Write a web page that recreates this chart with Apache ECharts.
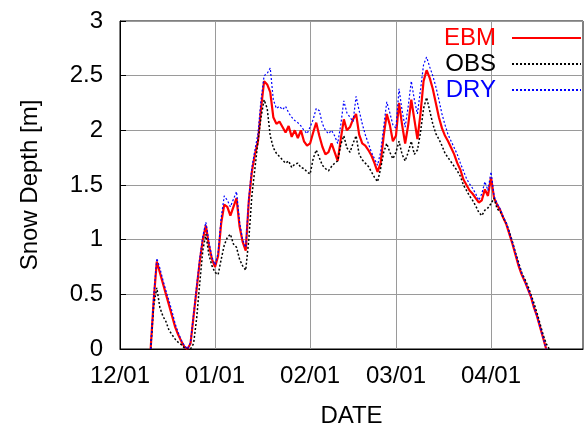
<!DOCTYPE html>
<html>
<head>
<meta charset="utf-8">
<script src="https://cdn.jsdelivr.net/npm/echarts@6/dist/echarts.min.js"></script>
<style>html,body{margin:0;padding:0;background:#fff}#c{width:585px;height:425px}</style>
</head>
<body>
<div id="c"></div>
<script>
// Day offsets from 12/01 (0 = 12/01)
var days = [];
for (var d = 10; d <= 140; d++) days.push(d);
var tickDays = [0, 31, 62, 90, 121];
var tickLabels = ['12/01', '01/01', '02/01', '03/01', '04/01'];
var seriesNames = ['EBM', 'OBS', 'DRY'];

var ebm = [
 0, 0.45, 0.80, 0.70, 0.60, 0.50, 0.40, 0.30, 0.20, 0.13,
 0.07, 0.02, 0, 0.05, 0.30, 0.55, 0.80, 1.00, 1.13, 0.95,
 0.82, 0.75, 0.85, 1.15, 1.32, 1.30, 1.22, 1.30, 1.38, 1.12,
 0.98, 0.90, 1.35, 1.62, 1.78, 1.90, 2.20, 2.45, 2.42, 2.35,
 2.12, 2.06, 2.08, 2.03, 1.98, 2.04, 1.94, 2.00, 1.93, 2.00,
 1.90, 1.86, 1.88, 1.98, 2.07, 1.95, 1.85, 1.78, 1.80, 1.88,
 1.80, 1.72, 1.92, 2.10, 2.00, 2.03, 2.10, 2.15, 1.96, 1.88,
 1.86, 1.82, 1.77, 1.70, 1.62, 1.70, 1.95, 2.15, 2.05, 1.90,
 1.95, 2.25, 2.05, 1.88, 2.05, 2.28, 2.10, 1.92, 2.15, 2.45,
 2.55, 2.48, 2.38, 2.25, 2.12, 2.02, 1.95, 1.90, 1.84, 1.78,
 1.70, 1.64, 1.55, 1.50, 1.45, 1.42, 1.38, 1.34, 1.36, 1.46,
 1.40, 1.57, 1.38, 1.32, 1.27, 1.20, 1.14, 1.05, 0.96, 0.86,
 0.76, 0.68, 0.62, 0.55, 0.48, 0.38, 0.30, 0.20, 0.10, 0,
 null
];
var obs = [
 0, 0.40, 0.56, 0.38, 0.30, 0.25, 0.17, 0.13, 0.09, 0.06,
 0.04, 0.01, 0, 0, 0.05, 0.28, 0.60, 0.90, 1.05, 0.86,
 0.76, 0.70, 0.68, 0.82, 0.95, 1.02, 1.05, 0.96, 0.93, 0.82,
 0.76, 0.72, 1.00, 1.40, 1.65, 1.90, 2.12, 2.28, 2.20, 1.95,
 1.84, 1.79, 1.76, 1.73, 1.70, 1.72, 1.66, 1.69, 1.70, 1.66,
 1.65, 1.62, 1.60, 1.74, 1.82, 1.75, 1.68, 1.65, 1.63, 1.67,
 1.70, 1.72, 1.87, 1.95, 1.84, 1.80, 1.88, 1.95, 1.78, 1.73,
 1.70, 1.67, 1.62, 1.57, 1.53, 1.65, 1.80, 1.88, 1.80, 1.74,
 1.80, 1.90, 1.78, 1.72, 1.80, 1.90, 1.78, 1.82, 1.98, 2.20,
 2.30, 2.18, 2.06, 1.97, 1.92, 1.86, 1.79, 1.75, 1.71, 1.67,
 1.63, 1.58, 1.50, 1.45, 1.40, 1.36, 1.31, 1.25, 1.22, 1.27,
 1.29, 1.33, 1.38, 1.28, 1.26, 1.20, 1.15, 1.07, 0.98, 0.88,
 0.79, 0.70, 0.64, 0.58, 0.50, 0.42, 0.33, 0.23, 0.13, 0.05,
 0
];
var dry = [
 0, 0.48, 0.83, 0.74, 0.63, 0.53, 0.44, 0.34, 0.23, 0.15,
 0.08, 0.03, 0, 0.06, 0.32, 0.58, 0.83, 1.03, 1.16, 0.98,
 0.84, 0.77, 0.88, 1.20, 1.40, 1.36, 1.30, 1.37, 1.44, 1.16,
 1.00, 0.93, 1.38, 1.66, 1.82, 1.97, 2.28, 2.50, 2.52, 2.57,
 2.28, 2.20, 2.22, 2.19, 2.22, 2.16, 2.12, 2.09, 2.07, 2.04,
 2.00, 1.97, 2.03, 2.10, 2.20, 2.18, 2.06, 2.00, 1.97, 2.00,
 1.95, 1.88, 2.05, 2.27, 2.16, 2.12, 2.08, 2.31, 2.18, 2.06,
 1.96, 1.88, 1.80, 1.74, 1.68, 1.80, 2.03, 2.26, 2.16, 2.05,
 2.02, 2.38, 2.18, 2.03, 2.22, 2.45, 2.28, 2.15, 2.37, 2.60,
 2.67, 2.58, 2.50, 2.40, 2.28, 2.15, 2.05, 1.96, 1.90, 1.84,
 1.78, 1.70, 1.63, 1.56, 1.51, 1.47, 1.42, 1.36, 1.42, 1.53,
 1.45, 1.62, 1.40, 1.33, 1.28, 1.21, 1.15, 1.06, 0.97, 0.87,
 0.77, 0.69, 0.62, 0.55, 0.48, 0.38, 0.30, 0.20, 0.10, 0,
 null
];

function pairs(vals) {
  return days.map(function (d, i) { return [d, vals[i]]; });
}
var FONT = 'Liberation Sans, Arial, sans-serif';
var GRID_STYLE = {color: '#9a9a9a', width: 1, type: 'solid'};
var chart = echarts.init(document.getElementById('c'));
chart.setOption({
  animation: false,
  grid: {left: 120, right: 2, top: 21, bottom: 76, show: true, borderColor: '#000', borderWidth: 1, outerBoundsMode: 'none'},
  legend: {
    orient: 'vertical', right: 3, top: 26, align: 'right',
    itemWidth: 69, itemHeight: 10, itemGap: 2, padding: 0,
    itemStyle: {opacity: 0},
    textStyle: {fontSize: 24, fontFamily: FONT, padding: [0, 11, 0, 0]},
    data: [
      {name: seriesNames[0], textStyle: {color: '#ff0000'}},
      {name: seriesNames[1], textStyle: {color: '#000000'}},
      {name: seriesNames[2], textStyle: {color: '#0000ff'}}
    ]
  },
  xAxis: {
    type: 'value', min: 0, max: 151,
    name: 'DATE', nameLocation: 'middle', nameGap: 55,
    nameTextStyle: {fontSize: 24, color: '#000', fontFamily: FONT},
    axisLine: {show: true, lineStyle: {color: '#000'}},
    axisTick: {show: true, inside: true, length: 6, customValues: tickDays, lineStyle: {color: '#000'}},
    axisLabel: {customValues: tickDays, fontSize: 24, color: '#000', margin: 15, fontFamily: FONT,
      formatter: function (v) { var i = tickDays.indexOf(v); return i >= 0 ? tickLabels[i] : ''; }},
    splitLine: {show: false}
  },
  yAxis: {
    type: 'value', min: 0, max: 3, interval: 0.5,
    name: 'Snow Depth [m]', nameLocation: 'middle', nameGap: 78,
    nameTextStyle: {fontSize: 24, color: '#000', fontFamily: FONT},
    axisLine: {show: true, lineStyle: {color: '#000'}},
    axisTick: {show: true, inside: true, length: 6, lineStyle: {color: '#000'}},
    axisLabel: {fontSize: 24, color: '#000', margin: 17, fontFamily: FONT},
    splitLine: {show: true, lineStyle: GRID_STYLE}
  },
  series: [
    {name: seriesNames[0], type: 'line', data: pairs(ebm), symbol: 'none', z: 2,
     lineStyle: {color: '#ff0000', width: 2.2}, itemStyle: {color: '#ff0000'},
     markLine: {
       silent: true, symbol: ['none', 'none'], label: {show: false}, z: 1,
       lineStyle: GRID_STYLE,
       data: tickDays.slice(1).map(function (v) { return {xAxis: v}; })
     }},
    {name: seriesNames[1], type: 'line', data: pairs(obs), symbol: 'none', z: 3,
     lineStyle: {color: '#000000', width: 1.5, type: [2, 2]}, itemStyle: {color: '#000'}},
    {name: seriesNames[2], type: 'line', data: pairs(dry), symbol: 'none', z: 4,
     lineStyle: {color: '#0000ff', width: 1.2, type: [2, 2]}, itemStyle: {color: '#0000ff'}}
  ]
});
</script>
</body>
</html>
